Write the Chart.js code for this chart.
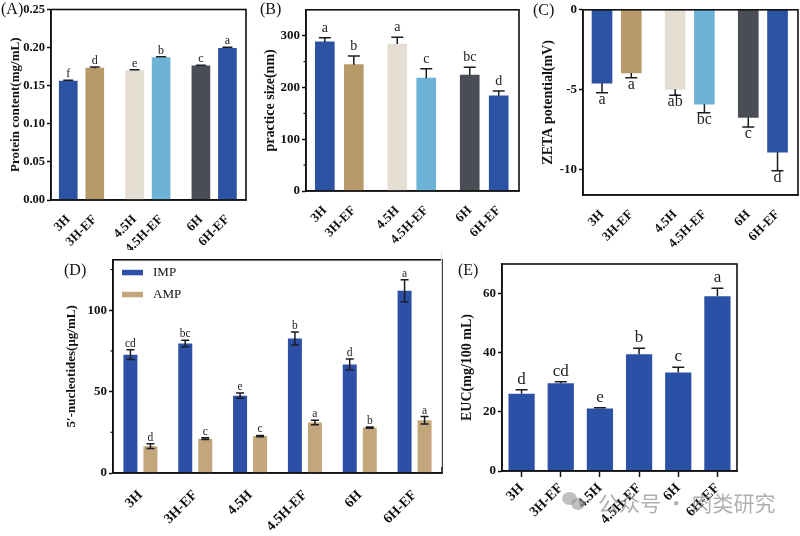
<!DOCTYPE html>
<html>
<head>
<meta charset="utf-8">
<script src="https://cdn.jsdelivr.net/npm/chart.js@4.4.0/dist/chart.umd.min.js"></script>
<style>
  html, body { margin: 0; padding: 0; background: #fff; }
  #page { position: relative; width: 800px; height: 536px; overflow: hidden; background: #fff; }
  #page canvas { position: absolute; }
  .tag { position: absolute; font-family: 'Liberation Serif', 'Times New Roman', serif; font-size: 16px; color: #111; line-height: 1; }
  .mark { position: absolute; font-family: 'Noto Sans CJK SC', sans-serif; font-size: 21px; color: rgba(150,150,150,0.75); line-height: 1; white-space: nowrap; }
  .dot { position: absolute; border-radius: 50%; background: rgba(150,150,150,0.6); }
</style>
</head>
<body>
<div id="page">
  <canvas id="cA" width="260" height="250" style="left:0;top:0"></canvas>
  <canvas id="cB" width="270" height="250" style="left:260px;top:0"></canvas>
  <canvas id="cC" width="270" height="250" style="left:530px;top:0"></canvas>
  <canvas id="cD" width="400" height="286" style="left:60px;top:250px"></canvas>
  <canvas id="cE" width="345" height="286" style="left:455px;top:250px"></canvas>

  <div class="tag" style="left:1px;top:1px">(A)</div>
  <div class="tag" style="left:260px;top:1px">(B)</div>
  <div class="tag" style="left:533px;top:2px">(C)</div>
  <div class="tag" style="left:64px;top:262px">(D)</div>
  <div class="tag" style="left:458px;top:262px">(E)</div>

  <div style="position:absolute;left:441px;top:252px;width:1px;height:215px;background:#ddd"></div>

  <div class="dot" style="left:562px;top:492px;width:15px;height:13px"></div>
  <div class="dot" style="left:571px;top:498px;width:14px;height:12px"></div>
  <div class="mark" style="left:598px;top:492px">公众号 · 肉类研究</div>
</div>

<script>
// categories / values
const groups = ['3H', '3H-EF', '4.5H', '4.5H-EF', '6H', '6H-EF'];

const protein    = [0.156, 0.173, 0.170, 0.187, 0.176, 0.199];
const proteinErr = [0.001, 0.0015, 0.001, 0.001, 0.001, 0.0015];
const proteinSig = ['f', 'd', 'e', 'b', 'c', 'a'];

const sizeNm    = [288, 244, 284, 218, 224, 184];
const sizeErr   = [8, 17, 13, 18, 15, 9];
const sizeSig   = ['a', 'b', 'a', 'c', 'bc', 'd'];

const zeta      = [-4.59, -3.96, -4.98, -5.91, -6.74, -8.92];
const zetaErr   = [0.6, 0.3, 0.37, 0.54, 0.6, 1.16];
const zetaSig   = ['a', 'a', 'ab', 'bc', 'c', 'd'];

const imp       = [72.7, 79.5, 47.5, 82.6, 66.7, 112];
const impErr    = [3, 2, 1.6, 4, 3.3, 6.8];
const impSig    = ['cd', 'bc', 'e', 'b', 'd', 'a'];
const amp       = [16.5, 21.1, 22.7, 31, 27.9, 32.4];
const ampErr    = [1.5, 0.5, 0.4, 1.4, 0.4, 2.3];
const ampSig    = ['d', 'c', 'c', 'a', 'b', 'a'];

const euc       = [26.1, 29.7, 21.1, 39.5, 33.3, 59.1];
const eucErr    = [1.4, 0.5, 0.3, 2, 1.8, 2.7];
const eucSig    = ['d', 'cd', 'e', 'b', 'c', 'a'];

// tick labels
const ticksA = [0, 0.05, 0.10, 0.15, 0.20, 0.25];
const ticksB = [0, 100, 200, 300];
const ticksC = [0, -5, -10];
const ticksD = [0, 50, 100];
const ticksE = [0, 20, 40, 60];

// x slots for the paired layout in A-C (pairs sit closer together)
const slots = [1, 2, 3.5, 4.5, 6, 7];

const sixColors = ['#2c52a3', '#b8996a', '#e4dfd2', '#6db3d7', '#4a4d56', '#2c52a3'];
const serif = "'Liberation Serif', 'Times New Roman', serif";
const ink = '#111';

// error bars, letters, frame, minor ticks, legend
const extras = {
  id: 'extras',
  afterDatasetsDraw(chart) {
    const o = chart.options.plugins.extras || {};
    const ctx = chart.ctx, ys = chart.scales.y;
    ctx.save();
    chart.data.datasets.forEach((ds, d) => {
      const meta = chart.getDatasetMeta(d);
      meta.data.forEach((bar, i) => {
        const raw = ds.data[i];
        const v = typeof raw === 'object' ? raw.y : raw;
        const e = ds.err[i];
        const sgn = v >= 0 ? 1 : -1;
        const tip = ys.getPixelForValue(v + sgn * e);
        const from = o.both ? ys.getPixelForValue(v - sgn * e) : ys.getPixelForValue(v);
        const half = o.cap / 2;
        ctx.strokeStyle = '#1b1b22';
        ctx.lineWidth = 1.5;
        ctx.beginPath();
        ctx.moveTo(bar.x, from); ctx.lineTo(bar.x, tip);
        ctx.moveTo(bar.x - half, tip); ctx.lineTo(bar.x + half, tip);
        if (o.both) { ctx.moveTo(bar.x - half, from); ctx.lineTo(bar.x + half, from); }
        ctx.stroke();

        ctx.fillStyle = '#222';
        ctx.font = o.sigSize + 'px ' + serif;
        ctx.textAlign = 'center';
        if (sgn > 0) {
          ctx.textBaseline = 'alphabetic';
          ctx.fillText(ds.sig[i], bar.x, tip - o.gap);
        } else {
          ctx.textBaseline = 'top';
          ctx.fillText(ds.sig[i], bar.x, tip + o.gap);
        }
      });
    });
    ctx.restore();
  },
  afterDraw(chart) {
    const o = chart.options.plugins.extras || {};
    const ctx = chart.ctx, a = chart.chartArea, ys = chart.scales.y;
    ctx.save();
    ctx.strokeStyle = ink;
    ctx.lineWidth = 1.6;
    ctx.strokeRect(a.left, a.top, a.right - a.left, a.bottom - a.top);
    (o.minor || []).forEach(v => {
      const y = ys.getPixelForValue(v);
      ctx.lineWidth = 1.2;
      ctx.beginPath(); ctx.moveTo(a.left - 2.5, y); ctx.lineTo(a.left, y); ctx.stroke();
    });
    if (o.legend) {
      chart.data.datasets.forEach((ds, d) => {
        const y = a.top + 10 + d * 22;
        ctx.fillStyle = ds.backgroundColor;
        ctx.fillRect(a.left + 9, y, 21, 5.5);
        ctx.fillStyle = ink;
        ctx.font = '13px ' + serif;
        ctx.textAlign = 'left';
        ctx.textBaseline = 'middle';
        ctx.fillText(ds.label, a.left + 40, y + 3);
      });
    }
    ctx.restore();
  }
};

function yAxis(c) {
  return {
    min: c.min, max: c.max,
    afterFit: s => { s.width = c.width; },
    afterBuildTicks: s => { s.ticks = c.ticks.map(v => ({ value: v })); },
    ticks: {
      color: ink, padding: 2,
      font: { family: serif, size: c.tickSize || 13, weight: 'bold' },
      callback: c.fmt || (v => v)
    },
    grid: { display: true, drawOnChartArea: false, drawTicks: true, tickLength: 4, tickColor: ink, tickWidth: 1.5 },
    border: { display: true, color: ink, width: 1.5 },
    title: {
      display: true, text: c.title, color: ink,
      font: { family: serif, size: c.titleSize || 13, weight: 'bold' },
      padding: { top: c.titlePad, bottom: 0 }
    }
  };
}

function xSlots(h) {
  return {
    type: 'linear', min: 0.35, max: 7.7, offset: false,
    afterFit: s => { s.height = h; },
    afterBuildTicks: s => { s.ticks = slots.map(v => ({ value: v })); },
    ticks: {
      autoSkip: false, minRotation: 45, maxRotation: 45, padding: 4, color: ink,
      font: { family: serif, size: 13, weight: 'bold' },
      callback: v => groups[slots.indexOf(v)]
    },
    grid: { display: false, offset: false },
    border: { display: true, color: ink, width: 1.5 }
  };
}

function pairedPanel(id, vals, err, sig, thick, pad, xh, y, ex) {
  return new Chart(id, {
    type: 'bar',
    data: {
      datasets: [{
        data: vals.map((v, i) => ({ x: slots[i], y: v })),
        err: err, sig: sig,
        backgroundColor: sixColors,
        barThickness: thick
      }]
    },
    options: {
      responsive: false, animation: false,
      layout: { padding: pad },
      plugins: { legend: { display: false }, tooltip: { enabled: false }, extras: ex },
      scales: { x: xSlots(xh), y: yAxis(y) }
    },
    plugins: [extras]
  });
}

// (A) protein content
pairedPanel('cA', protein, proteinErr, proteinSig, 18,
  { top: 7, right: 14, left: 0, bottom: 0 }, 50,
  { min: 0, max: 0.25, ticks: ticksA, width: 51, fmt: v => v.toFixed(2), title: 'Protein content(mg/mL)', titlePad: 8, tickSize: 12.5 },
  { cap: 10, gap: 3, sigSize: 12 });

// (B) particle size
pairedPanel('cB', sizeNm, sizeErr, sizeSig, 19,
  { top: 7, right: 11, left: 0, bottom: 0 }, 59,
  { min: 0, max: 350, ticks: ticksB, width: 46, title: 'practice size(nm)', titleSize: 14, titlePad: 2 },
  { cap: 12, gap: 6, sigSize: 14, minor: [50, 150, 250] });

// (C) zeta potential
pairedPanel('cC', zeta, zetaErr, zetaSig, 20,
  { top: 8, right: 2, left: 0, bottom: 0 }, 55,
  { min: -11.6, max: 0, ticks: ticksC, width: 53, title: 'ZETA potential(mV)', titleSize: 14, titlePad: 10 },
  { cap: 12, gap: -1, sigSize: 16 });

// (D) 5'-nucleotides
new Chart('cD', {
  type: 'bar',
  data: {
    labels: groups,
    datasets: [
      { label: 'IMP', data: imp, err: impErr, sig: impSig, backgroundColor: '#2d4fa5', categoryPercentage: 0.73, barPercentage: 0.7 },
      { label: 'AMP', data: amp, err: ampErr, sig: ampSig, backgroundColor: '#c3a67c', categoryPercentage: 0.73, barPercentage: 0.7 }
    ]
  },
  options: {
    responsive: false, animation: false,
    layout: { padding: { top: 9, right: 18, left: 0, bottom: 0 } },
    plugins: { legend: { display: false }, tooltip: { enabled: false },
      extras: { cap: 8, gap: 3, sigSize: 11.5, both: true, minor: [25, 75, 125], legend: true } },
    scales: {
      x: {
        afterFit: s => { s.height = 63; },
        ticks: { autoSkip: false, minRotation: 45, maxRotation: 45, padding: 6, color: ink, font: { family: serif, size: 14, weight: 'bold' } },
        grid: { display: false },
        border: { display: true, color: ink, width: 1.5 }
      },
      y: yAxis({ min: 0, max: 131, ticks: ticksD, width: 53, title: '5′-nucleotides(μg/mL)', titlePad: 4 })
    }
  },
  plugins: [extras]
});

// (E) EUC
new Chart('cE', {
  type: 'bar',
  data: {
    labels: groups,
    datasets: [
      { data: euc, err: eucErr, sig: eucSig, backgroundColor: '#2b51a6', categoryPercentage: 1, barPercentage: 0.67 }
    ]
  },
  options: {
    responsive: false, animation: false,
    layout: { padding: { top: 14, right: 63, left: 0, bottom: 0 } },
    plugins: { legend: { display: false }, tooltip: { enabled: false },
      extras: { cap: 12, gap: 6, sigSize: 17 } },
    scales: {
      x: {
        afterFit: s => { s.height = 65; },
        ticks: { autoSkip: false, minRotation: 45, maxRotation: 45, padding: 3, color: ink, font: { family: serif, size: 14, weight: 'bold' } },
        grid: { display: true, drawOnChartArea: false, drawTicks: true, tickLength: 6, offset: false, tickColor: ink, tickWidth: 1.5 },
        border: { display: true, color: ink, width: 1.5 }
      },
      y: yAxis({ min: 0, max: 70, ticks: ticksE, width: 47, title: 'EUC(mg/100 mL)', titleSize: 14, titlePad: 4 })
    }
  },
  plugins: [extras]
});
</script>
</body>
</html>
